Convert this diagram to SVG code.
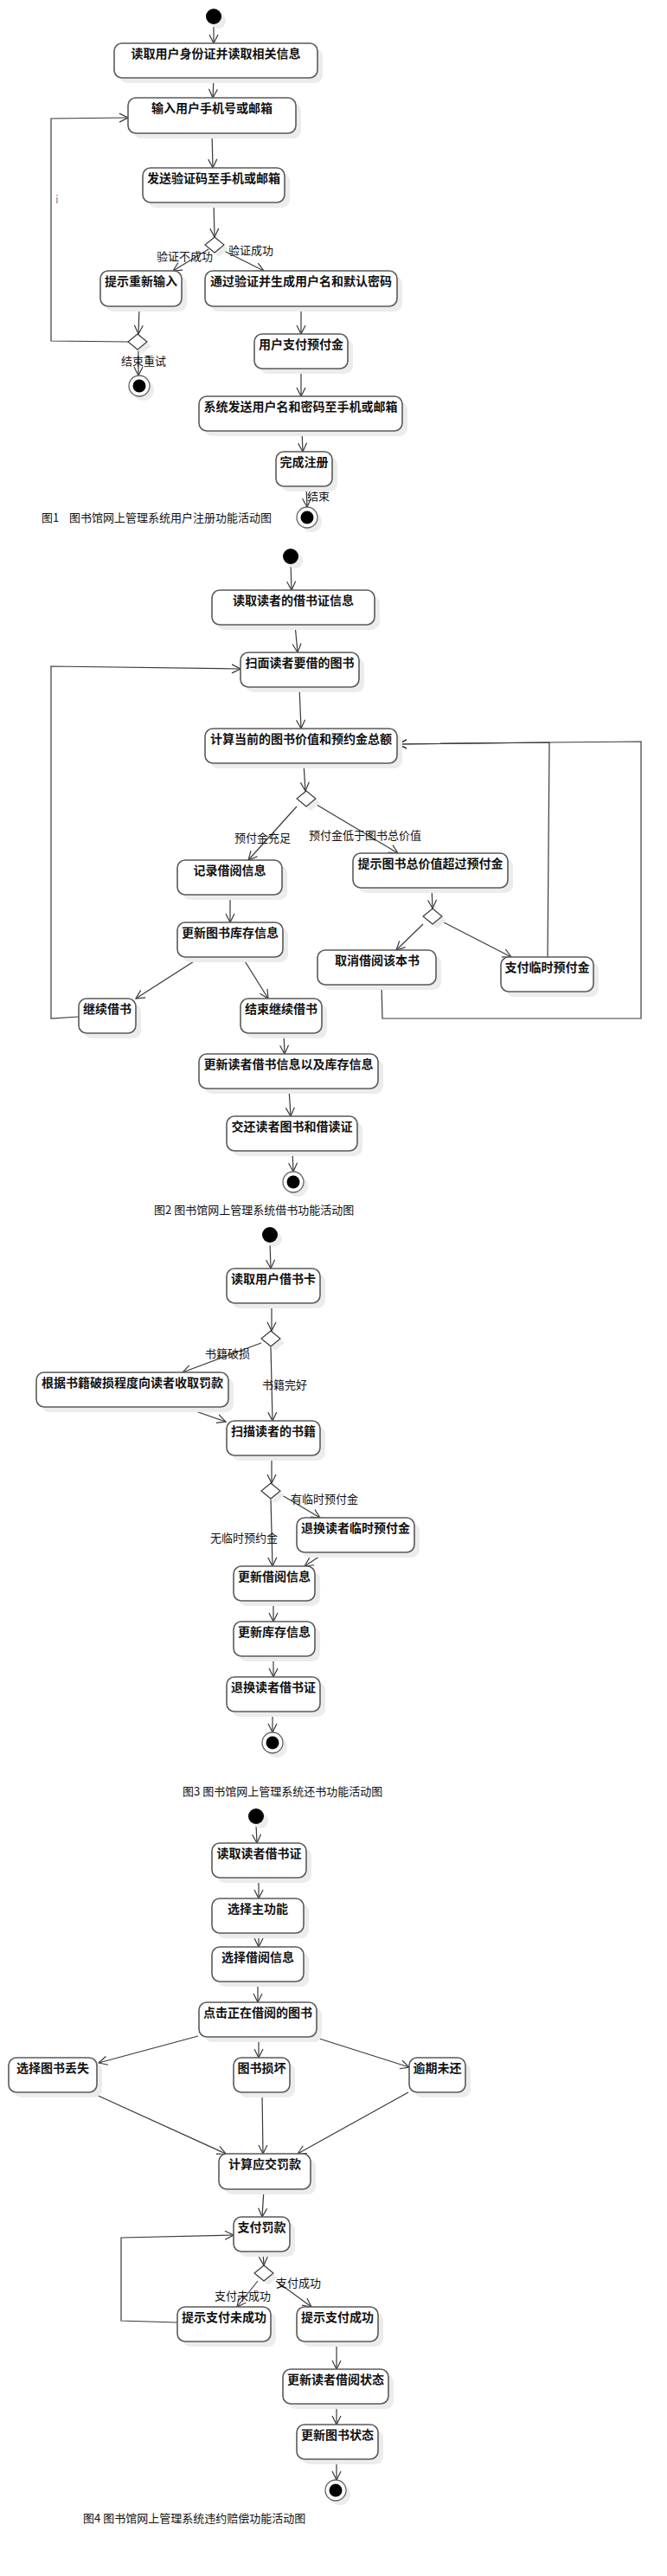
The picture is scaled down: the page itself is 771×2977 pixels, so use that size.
<svg xmlns="http://www.w3.org/2000/svg" width="771" height="2977" viewBox="0 0 771 2977">
<defs>
<style>
.sh{fill:#ececec}
.bx{fill:#fff;stroke:#5a5a5a;stroke-width:1.6}
.t{font-family:"Noto Sans CJK SC","Liberation Sans",sans-serif;font-size:14px;font-weight:bold;fill:#111;text-anchor:middle}
.l{font-family:"Noto Sans CJK SC","Liberation Sans",sans-serif;font-size:13px;fill:#111}
.c{stroke:#3a3a3a;stroke-width:1.2;fill:none;marker-end:url(#a)}
.dm{fill:#fff;stroke:#333;stroke-width:1.1}
.st{fill:#000}
.eo{fill:#fff;stroke:#666;stroke-width:1.3}
</style>
<marker id="a" viewBox="0 0 12 12" refX="11" refY="6" markerWidth="12" markerHeight="12" markerUnits="userSpaceOnUse" orient="auto">
<path d="M1,1 L11,6 L1,11" fill="none" stroke="#3a3a3a" stroke-width="1.2"/>
</marker>
</defs>
<rect width="771" height="2977" fill="#fff"/>

<g id="connectors">
<!-- Fig1 -->
<path class="c" d="M247,29 L247,50"/>
<path class="c" d="M247,90 L246,113"/>
<path class="c" d="M245,154 L246,194"/>
<path class="c" d="M247,234 L248,274"/>
<path class="c" d="M241,288 L200,313"/>
<path class="c" d="M255,288 L305,313"/>
<path class="c" d="M161,354 L160,386"/>
<path class="c" d="M160,404 L160,434"/>
<path class="c" d="M148,395 L59,394 L59,137 L148,136"/>
<path class="c" d="M348,354 L348,386"/>
<path class="c" d="M348,426 L348,458"/>
<path class="c" d="M349,498 L350,522"/>
<path class="c" d="M354,562 L355,586"/>
<!-- Fig2 -->
<path class="c" d="M336,652 L337,682"/>
<path class="c" d="M341,722 L344,754"/>
<path class="c" d="M346,794 L348,842"/>
<path class="c" d="M91,1175 L59,1177 L59,770 L278,773"/>
<path class="c" d="M351,882 L353,914"/>
<path class="c" d="M343,932 L287,994"/>
<path class="c" d="M366,930 L460,986"/>
<path class="c" d="M266,1034 L266,1066"/>
<path class="c" d="M499,1026 L500,1050"/>
<path class="c" d="M489,1068 L458,1098"/>
<path class="c" d="M513,1066 L591,1106"/>
<path class="c" d="M232,1106 L157,1154"/>
<path class="c" d="M280,1106 L310,1154"/>
<path class="c" d="M633,1106 L635,858 L460,860"/>
<path class="c" d="M441,1138 L442,1177 L741,1177 L741,857 L635,858 L460,860"/>
<path class="c" d="M328,1194 L329,1218"/>
<path class="c" d="M334,1258 L336,1290"/>
<path class="c" d="M338,1330 L339,1354"/>
<!-- Fig3 -->
<path class="c" d="M312,1436 L313,1466"/>
<path class="c" d="M314,1506 L314,1538"/>
<path class="c" d="M302,1552 L211,1586"/>
<path class="c" d="M313,1556 L315,1642"/>
<path class="c" d="M215,1627 L261,1643"/>
<path class="c" d="M314,1682 L314,1714"/>
<path class="c" d="M313,1732 L315,1810"/>
<path class="c" d="M326,1728 L370,1754"/>
<path class="c" d="M375,1795 L352,1810"/>
<path class="c" d="M316,1850 L316,1874"/>
<path class="c" d="M316,1914 L316,1938"/>
<path class="c" d="M315,1978 L315,2002"/>
<!-- Fig4 -->
<path class="c" d="M296,2108 L297,2130"/>
<path class="c" d="M299,2170 L299,2194"/>
<path class="c" d="M299,2234 L299,2250"/>
<path class="c" d="M298,2290 L298,2314"/>
<path class="c" d="M229,2353 L114,2384"/>
<path class="c" d="M299,2354 L299,2378"/>
<path class="c" d="M366,2355 L473,2389"/>
<path class="c" d="M107,2419 L261,2489"/>
<path class="c" d="M303,2419 L304,2489"/>
<path class="c" d="M472,2418 L344,2489"/>
<path class="c" d="M305,2530 L303,2562"/>
<path class="c" d="M304,2602 L305,2618"/>
<path class="c" d="M298,2636 L274,2666"/>
<path class="c" d="M319,2636 L360,2666"/>
<path class="c" d="M205,2684 L140,2682 L140,2586 L270,2583"/>
<path class="c" d="M389,2706 L389,2738"/>
<path class="c" d="M389,2778 L389,2802"/>
<path class="c" d="M389,2842 L389,2866"/>
</g>

<g id="labels">
<text class="l" x="64" y="235" fill="#888" style="fill:#888">i</text>
<text class="l" x="181" y="301">验证不成功</text>
<text class="l" x="264" y="294">验证成功</text>
<text class="l" x="140" y="422">结束重试</text>
<text class="l" x="355" y="578">结束</text>
<text class="l" x="48" y="603">图1<tspan x="80">图书馆网上管理系统用户注册功能活动图</tspan></text>
<text class="l" x="271" y="973">预付金充足</text>
<text class="l" x="357" y="970">预付金低于图书总价值</text>
<text class="l" x="178" y="1403">图2 图书馆网上管理系统借书功能活动图</text>
<text class="l" x="237" y="1569">书籍破损</text>
<text class="l" x="303" y="1605">书籍完好</text>
<text class="l" x="336" y="1737">有临时预付金</text>
<text class="l" x="243" y="1782">无临时预约金</text>
<text class="l" x="211" y="2075">图3 图书馆网上管理系统还书功能活动图</text>
<text class="l" x="248" y="2658">支付未成功</text>
<text class="l" x="319" y="2643">支付成功</text>
<text class="l" x="96" y="2915">图4 图书馆网上管理系统违约赔偿功能活动图</text>
</g>

<!-- start / end / decision nodes -->
<g id="start1"><circle class="sh" cx="252" cy="24" r="9"/><circle class="st" cx="247" cy="19" r="9"/></g>
<g id="start2"><circle class="sh" cx="341" cy="648" r="9"/><circle class="st" cx="336" cy="643" r="9"/></g>
<g id="start3"><circle class="sh" cx="317" cy="1432" r="9"/><circle class="st" cx="312" cy="1427" r="9"/></g>
<g id="start4"><circle class="sh" cx="301" cy="2104" r="9"/><circle class="st" cx="296" cy="2099" r="9"/></g>

<g id="end1a"><circle class="sh" cx="166" cy="451" r="12"/><circle class="eo" cx="161" cy="446" r="12"/><circle class="st" cx="161" cy="446" r="7.5"/></g>
<g id="end1b"><circle class="sh" cx="360" cy="603" r="12"/><circle class="eo" cx="355" cy="598" r="12"/><circle class="st" cx="355" cy="598" r="7.5"/></g>
<g id="end2"><circle class="sh" cx="344" cy="1371" r="12"/><circle class="eo" cx="339" cy="1366" r="12"/><circle class="st" cx="339" cy="1366" r="7.5"/></g>
<g id="end3"><circle class="sh" cx="320" cy="2019" r="12"/><circle class="eo" cx="315" cy="2014" r="12"/><circle class="st" cx="315" cy="2014" r="7.5"/></g>
<g id="end4"><circle class="sh" cx="393" cy="2883" r="12"/><circle class="eo" cx="388" cy="2878" r="12"/><circle class="st" cx="388" cy="2878" r="7.5"/></g>

<g id="dec1"><path class="sh" d="M253,279 L264,288 L253,297 L242,288Z"/><path class="dm" d="M248,274 L259,283 L248,292 L237,283Z"/></g>
<g id="dec2"><path class="sh" d="M164,391 L175,400 L164,409 L153,400Z"/><path class="dm" d="M159,386 L170,395 L159,404 L148,395Z"/></g>
<g id="dec3"><path class="sh" d="M359,919 L370,928 L359,937 L348,928Z"/><path class="dm" d="M354,914 L365,923 L354,932 L343,923Z"/></g>
<g id="dec4"><path class="sh" d="M505,1055 L516,1064 L505,1073 L494,1064Z"/><path class="dm" d="M500,1050 L511,1059 L500,1068 L489,1059Z"/></g>
<g id="dec5"><path class="sh" d="M318,1543 L329,1552 L318,1561 L307,1552Z"/><path class="dm" d="M313,1538 L324,1547 L313,1556 L302,1547Z"/></g>
<g id="dec6"><path class="sh" d="M318,1719 L329,1728 L318,1737 L307,1728Z"/><path class="dm" d="M313,1714 L324,1723 L313,1732 L302,1723Z"/></g>
<g id="dec7"><path class="sh" d="M310,2623 L321,2632 L310,2641 L299,2632Z"/><path class="dm" d="M305,2618 L316,2627 L305,2636 L294,2627Z"/></g>

<!-- Fig1 boxes -->
<g id="b1"><rect class="sh" x="138" y="56" width="235" height="40" rx="9"/><rect class="bx" x="132" y="50" width="235" height="40" rx="9"/><text class="t" x="249.5" y="67">读取用户身份证并读取相关信息</text></g>
<g id="b2"><rect class="sh" x="154" y="119" width="194" height="41" rx="9"/><rect class="bx" x="148" y="113" width="194" height="41" rx="9"/><text class="t" x="245" y="130">输入用户手机号或邮箱</text></g>
<g id="b3"><rect class="sh" x="171" y="200" width="164" height="40" rx="9"/><rect class="bx" x="165" y="194" width="164" height="40" rx="9"/><text class="t" x="247" y="211">发送验证码至手机或邮箱</text></g>
<g id="b4"><rect class="sh" x="122" y="319" width="94" height="41" rx="9"/><rect class="bx" x="116" y="313" width="94" height="41" rx="9"/><text class="t" x="163" y="330">提示重新输入</text></g>
<g id="b5"><rect class="sh" x="243" y="319" width="222" height="41" rx="9"/><rect class="bx" x="237" y="313" width="222" height="41" rx="9"/><text class="t" x="348" y="330">通过验证并生成用户名和默认密码</text></g>
<g id="b6"><rect class="sh" x="300" y="392" width="108" height="40" rx="9"/><rect class="bx" x="294" y="386" width="108" height="40" rx="9"/><text class="t" x="348" y="403">用户支付预付金</text></g>
<g id="b7"><rect class="sh" x="236" y="464" width="235" height="40" rx="9"/><rect class="bx" x="230" y="458" width="235" height="40" rx="9"/><text class="t" x="347.5" y="475">系统发送用户名和密码至手机或邮箱</text></g>
<g id="b8"><rect class="sh" x="325" y="528" width="65" height="40" rx="9"/><rect class="bx" x="319" y="522" width="65" height="40" rx="9"/><text class="t" x="351.5" y="539">完成注册</text></g>

<!-- Fig2 boxes -->
<g id="c1"><rect class="sh" x="251" y="688" width="188" height="40" rx="9"/><rect class="bx" x="245" y="682" width="188" height="40" rx="9"/><text class="t" x="339" y="699">读取读者的借书证信息</text></g>
<g id="c2"><rect class="sh" x="284" y="760" width="137" height="40" rx="9"/><rect class="bx" x="278" y="754" width="137" height="40" rx="9"/><text class="t" x="346.5" y="771">扫面读者要借的图书</text></g>
<g id="c3"><rect class="sh" x="243" y="848" width="222" height="40" rx="9"/><rect class="bx" x="237" y="842" width="222" height="40" rx="9"/><text class="t" x="348" y="859">计算当前的图书价值和预约金总额</text></g>
<g id="c4"><rect class="sh" x="211" y="1000" width="121" height="40" rx="9"/><rect class="bx" x="205" y="994" width="121" height="40" rx="9"/><text class="t" x="265.5" y="1011">记录借阅信息</text></g>
<g id="c5"><rect class="sh" x="414" y="992" width="179" height="40" rx="9"/><rect class="bx" x="408" y="986" width="179" height="40" rx="9"/><text class="t" x="497.5" y="1003">提示图书总价值超过预付金</text></g>
<g id="c6"><rect class="sh" x="211" y="1072" width="122" height="40" rx="9"/><rect class="bx" x="205" y="1066" width="122" height="40" rx="9"/><text class="t" x="266" y="1083">更新图书库存信息</text></g>
<g id="c7"><rect class="sh" x="373" y="1104" width="137" height="40" rx="9"/><rect class="bx" x="367" y="1098" width="137" height="40" rx="9"/><text class="t" x="436" y="1115">取消借阅该本书</text></g>
<g id="c8"><rect class="sh" x="585" y="1112" width="107" height="40" rx="9"/><rect class="bx" x="579" y="1106" width="107" height="40" rx="9"/><text class="t" x="632.5" y="1123">支付临时预付金</text></g>
<g id="c9"><rect class="sh" x="97" y="1160" width="66" height="40" rx="9"/><rect class="bx" x="91" y="1154" width="66" height="40" rx="9"/><text class="t" x="124" y="1171">继续借书</text></g>
<g id="c10"><rect class="sh" x="284" y="1160" width="94" height="40" rx="9"/><rect class="bx" x="278" y="1154" width="94" height="40" rx="9"/><text class="t" x="325" y="1171">结束继续借书</text></g>
<g id="c11"><rect class="sh" x="236" y="1224" width="207" height="40" rx="9"/><rect class="bx" x="230" y="1218" width="207" height="40" rx="9"/><text class="t" x="333.5" y="1235">更新读者借书信息以及库存信息</text></g>
<g id="c12"><rect class="sh" x="268" y="1296" width="151" height="40" rx="9"/><rect class="bx" x="262" y="1290" width="151" height="40" rx="9"/><text class="t" x="337.5" y="1307">交还读者图书和借读证</text></g>

<!-- Fig3 boxes -->
<g id="d1"><rect class="sh" x="268" y="1472" width="108" height="40" rx="9"/><rect class="bx" x="262" y="1466" width="108" height="40" rx="9"/><text class="t" x="316" y="1483">读取用户借书卡</text></g>
<g id="d2"><rect class="sh" x="48" y="1592" width="222" height="40" rx="9"/><rect class="bx" x="42" y="1586" width="222" height="40" rx="9"/><text class="t" x="153" y="1603">根据书籍破损程度向读者收取罚款</text></g>
<g id="d3"><rect class="sh" x="268" y="1648" width="108" height="40" rx="9"/><rect class="bx" x="262" y="1642" width="108" height="40" rx="9"/><text class="t" x="316" y="1659">扫描读者的书籍</text></g>
<g id="d4"><rect class="sh" x="349" y="1760" width="136" height="40" rx="9"/><rect class="bx" x="343" y="1754" width="136" height="40" rx="9"/><text class="t" x="411" y="1771">退换读者临时预付金</text></g>
<g id="d5"><rect class="sh" x="276" y="1816" width="94" height="40" rx="9"/><rect class="bx" x="270" y="1810" width="94" height="40" rx="9"/><text class="t" x="317" y="1827">更新借阅信息</text></g>
<g id="d6"><rect class="sh" x="276" y="1880" width="94" height="40" rx="9"/><rect class="bx" x="270" y="1874" width="94" height="40" rx="9"/><text class="t" x="317" y="1891">更新库存信息</text></g>
<g id="d7"><rect class="sh" x="268" y="1944" width="108" height="40" rx="9"/><rect class="bx" x="262" y="1938" width="108" height="40" rx="9"/><text class="t" x="316" y="1955">退换读者借书证</text></g>

<!-- Fig4 boxes -->
<g id="e1"><rect class="sh" x="251" y="2136" width="109" height="40" rx="9"/><rect class="bx" x="245" y="2130" width="109" height="40" rx="9"/><text class="t" x="299.5" y="2147">读取读者借书证</text></g>
<g id="e2"><rect class="sh" x="251" y="2200" width="106" height="40" rx="9"/><rect class="bx" x="245" y="2194" width="106" height="40" rx="9"/><text class="t" x="298" y="2211">选择主功能</text></g>
<g id="e3"><rect class="sh" x="251" y="2256" width="106" height="40" rx="9"/><rect class="bx" x="245" y="2250" width="106" height="40" rx="9"/><text class="t" x="298" y="2267">选择借阅信息</text></g>
<g id="e4"><rect class="sh" x="236" y="2320" width="136" height="40" rx="9"/><rect class="bx" x="230" y="2314" width="136" height="40" rx="9"/><text class="t" x="298" y="2331">点击正在借阅的图书</text></g>
<g id="e5"><rect class="sh" x="16" y="2384" width="102" height="40" rx="9"/><rect class="bx" x="10" y="2378" width="102" height="40" rx="9"/><text class="t" x="61" y="2395">选择图书丢失</text></g>
<g id="e6"><rect class="sh" x="276" y="2384" width="65" height="40" rx="9"/><rect class="bx" x="270" y="2378" width="65" height="40" rx="9"/><text class="t" x="302.5" y="2395">图书损坏</text></g>
<g id="e7"><rect class="sh" x="479" y="2384" width="65" height="40" rx="9"/><rect class="bx" x="473" y="2378" width="65" height="40" rx="9"/><text class="t" x="505.5" y="2395">逾期未还</text></g>
<g id="e8"><rect class="sh" x="259" y="2495" width="106" height="41" rx="9"/><rect class="bx" x="253" y="2489" width="106" height="41" rx="9"/><text class="t" x="306" y="2506">计算应交罚款</text></g>
<g id="e9"><rect class="sh" x="276" y="2568" width="65" height="40" rx="9"/><rect class="bx" x="270" y="2562" width="65" height="40" rx="9"/><text class="t" x="302.5" y="2579">支付罚款</text></g>
<g id="e10"><rect class="sh" x="211" y="2672" width="108" height="40" rx="9"/><rect class="bx" x="205" y="2666" width="108" height="40" rx="9"/><text class="t" x="259" y="2683">提示支付未成功</text></g>
<g id="e11"><rect class="sh" x="349" y="2672" width="94" height="40" rx="9"/><rect class="bx" x="343" y="2666" width="94" height="40" rx="9"/><text class="t" x="390" y="2683">提示支付成功</text></g>
<g id="e12"><rect class="sh" x="333" y="2744" width="122" height="40" rx="9"/><rect class="bx" x="327" y="2738" width="122" height="40" rx="9"/><text class="t" x="388" y="2755">更新读者借阅状态</text></g>
<g id="e13"><rect class="sh" x="349" y="2808" width="94" height="40" rx="9"/><rect class="bx" x="343" y="2802" width="94" height="40" rx="9"/><text class="t" x="390" y="2819">更新图书状态</text></g>
</svg>
